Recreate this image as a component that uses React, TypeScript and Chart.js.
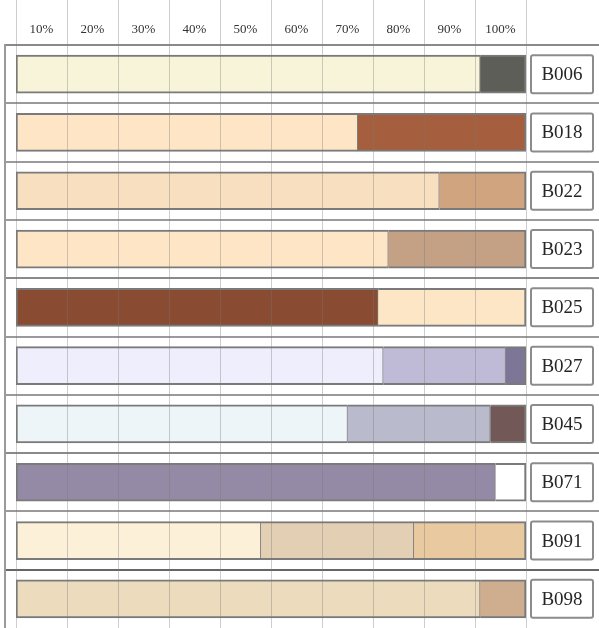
import React, { useEffect, useRef } from 'react';
import { Chart, registerables } from 'chart.js';

Chart.register(...registerables);

const rowLabels = ['B006', 'B018', 'B022', 'B023', 'B025', 'B027', 'B045', 'B071', 'B091', 'B098'];
const tickLabels = ['10%', '20%', '30%', '40%', '50%', '60%', '70%', '80%', '90%', '100%'];

const seg1 = [91, 67, 83, 73, 71, 72, 65, 94, 48, 91];
const seg2 = [9, 33, 17, 27, 29, 24, 28, 6, 30, 9];
const seg3 = [null, null, null, null, null, 4, 7, null, 22, null];

const seg1Colors = ['#f8f4d9', '#fde5c5', '#f7dfc0', '#fde5c6', '#8a4b33', '#eeeefc', '#eef5f9', '#958aa5', '#fdf0d9', '#eddbbe'];
const seg2Colors = ['#5e5e58', '#a55f3f', '#d0a47f', '#c4a085', '#fde6c6', '#bfbad6', '#b9bacc', '#ffffff', '#e3d0b4', '#cfad8f'];
const seg3Colors = ['#ffffff', '#ffffff', '#ffffff', '#ffffff', '#ffffff', '#7e7696', '#735858', '#ffffff', '#e9c9a0', '#ffffff'];

const separatorColors = ['#8a8a8a', '#9a9a9a', '#9a9a9a', '#9a9a9a', '#8a8a8a', '#9a9a9a', '#9a9a9a', '#8a8a8a', '#9a9a9a', '#666666'];

const allSegs = [seg1, seg2, seg3];

function lastSegIndex(row: number) {
  let last = 0;
  allSegs.forEach((s, i) => {
    if (s[row] !== null && s[row] !== undefined && (s[row] as number) > 0) last = i;
  });
  return last;
}

const decorPlugin = {
  id: 'decor',
  beforeDatasetsDraw(chart: any) {
    const { ctx, chartArea, scales } = chart;
    const y = scales.y;
    const step = y.getPixelForValue(1) - y.getPixelForValue(0);
    ctx.save();
    ctx.lineWidth = 2;
    rowLabels.forEach((_, i) => {
      const yy = Math.round(y.getPixelForValue(i) - step / 2);
      ctx.strokeStyle = separatorColors[i];
      ctx.beginPath();
      ctx.moveTo(4, yy);
      ctx.lineTo(chart.width, yy);
      ctx.stroke();
    });
    ctx.strokeStyle = '#9a9a9a';
    ctx.beginPath();
    ctx.moveTo(5, chartArea.top - 1);
    ctx.lineTo(5, chart.height);
    ctx.stroke();
    ctx.restore();
  },
  afterDatasetsDraw(chart: any) {
    const { ctx, chartArea, scales } = chart;
    const x = scales.x;
    const y = scales.y;
    ctx.save();
    ctx.lineWidth = 1;
    ctx.strokeStyle = 'rgba(120,120,120,0.36)';
    x.ticks.forEach((t: any) => {
      const px = Math.round(x.getPixelForValue(t.value)) + 0.5;
      ctx.beginPath();
      ctx.moveTo(px, 0);
      ctx.lineTo(px, chart.height);
      ctx.stroke();
    });
    const bx = chartArea.right + 5;
    const bw = 62;
    const bh = 38;
    rowLabels.forEach((lab, i) => {
      const cy = y.getPixelForValue(i);
      ctx.fillStyle = '#ffffff';
      ctx.strokeStyle = '#8c8c8c';
      ctx.lineWidth = 2;
      ctx.beginPath();
      ctx.roundRect(bx, cy - bh / 2, bw, bh, 2);
      ctx.fill();
      ctx.stroke();
      ctx.fillStyle = '#262626';
      ctx.font = '19px "Liberation Serif", serif';
      ctx.textAlign = 'center';
      ctx.textBaseline = 'middle';
      ctx.fillText(lab, bx + bw / 2, cy + 1);
    });
    ctx.restore();
  },
};

function borderWidthFor(ctx: any) {
  const d = ctx.datasetIndex;
  const r = ctx.dataIndex;
  const isLast = d === lastSegIndex(r);
  return { top: 2, bottom: 2, left: d === 0 ? 2 : 0, right: isLast ? 2 : 1 };
}

export default function App() {
  const ref = useRef<HTMLCanvasElement>(null);
  useEffect(() => {
    if (!ref.current) return;
    const chart = new Chart(ref.current, {
      type: 'bar',
      data: {
        labels: rowLabels,
        datasets: [
          { label: 'Segment 1', data: seg1, backgroundColor: seg1Colors },
          { label: 'Segment 2', data: seg2, backgroundColor: seg2Colors },
          { label: 'Segment 3', data: seg3 as any, backgroundColor: seg3Colors },
        ].map((ds) => ({
          ...ds,
          borderColor: '#7a7a7a',
          borderWidth: borderWidthFor,
          borderSkipped: false,
          barThickness: 38,
        })) as any,
      },
      options: {
        indexAxis: 'y',
        animation: false,
        responsive: false,
        layout: { padding: { left: 16, right: 73, top: 14, bottom: 0 } },
        plugins: { legend: { display: false }, tooltip: { enabled: false } },
        scales: {
          x: {
            type: 'linear',
            position: 'top',
            stacked: true,
            min: 0,
            max: 100,
            grid: { display: false, drawTicks: false },
            border: { display: false },
            afterFit: (scale: any) => {
              scale.paddingLeft = 0;
              scale.paddingRight = 0;
            },
            ticks: {
              stepSize: 10,
              autoSkip: false,
              maxRotation: 0,
              labelOffset: 25.5,
              padding: 7.7,
              color: '#333333',
              font: { family: '"Liberation Serif", serif', size: 13 },
              callback: (_v: any, i: number) => tickLabels[i] ?? '',
            },
          },
          y: {
            type: 'category',
            stacked: true,
            display: false,
          },
        },
      },
      plugins: [decorPlugin],
    });
    return () => chart.destroy();
  }, []);
  return (
    <div style={{ position: 'absolute', left: 0, top: 0, width: 599, height: 628 }}>
      <canvas ref={ref} width={599} height={628} style={{ display: 'block' }} />
    </div>
  );
}
